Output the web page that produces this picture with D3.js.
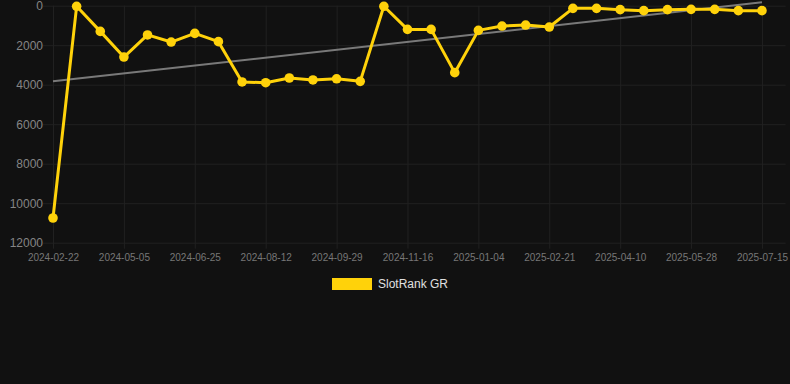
<!DOCTYPE html>
<html><head><meta charset="utf-8">
<script src="https://cdn.jsdelivr.net/npm/d3@7"></script>
<style>
html,body{margin:0;padding:0;background:#111111;}
svg{display:block;font-family:Arial,"Liberation Sans",sans-serif;}
</style></head>
<body>
<svg id="c" width="790" height="384"></svg>
<script>
const dates = ["2024-02-22","2024-03-16","2024-04-10","2024-05-05","2024-05-22","2024-06-08","2024-06-25","2024-07-11","2024-07-27","2024-08-12","2024-08-28","2024-09-13","2024-09-29","2024-10-15","2024-10-31","2024-11-16","2024-12-02","2024-12-18","2025-01-04","2025-01-20","2025-02-05","2025-02-21","2025-03-09","2025-03-25","2025-04-10","2025-04-26","2025-05-12","2025-05-28","2025-06-13","2025-06-29","2025-07-15"];
const ranks = [10750,30,1300,2600,1480,1840,1400,1820,3860,3900,3660,3760,3700,3830,30,1200,1200,3390,1250,1030,980,1080,135,135,200,250,200,185,185,250,250];
const trend = [3830,-170];
const yTicks = [0,2000,4000,6000,8000,10000,12000];
const seriesName = "SlotRank GR";

(function(){
const svg = d3.select("#c");
const pL = 53, pR = 785.6, pT = 5.7, pB = 242.7;
const x = d3.scaleLinear().domain([0, dates.length]).range([pL, pR]);
const y = d3.scaleLinear().domain([0, 12000]).range([pT, pB]);
const gridColor = "#212121";

// horizontal grid + y axis labels
const yAxis = d3.axisLeft(y).tickValues(yTicks).tickFormat(d => d).tickSize(-(pR - pL) - 10).tickPadding(0);
const gy = svg.append("g").attr("transform", `translate(${pL - 10},0)`).call(yAxis);
gy.select(".domain").remove();
gy.selectAll(".tick line").attr("stroke", gridColor).attr("stroke-width", 1);
gy.selectAll(".tick text").attr("fill", "#858585").attr("font-size", 12).attr("x", 0).attr("text-anchor", "end");

// vertical grid + x labels
const xIdx = d3.range(0, dates.length, 3);
const xAxis = d3.axisBottom(x).tickValues(xIdx).tickFormat(i => dates[i]).tickSize(-(pB - pT) - 6).tickPadding(10);
const gx = svg.append("g").attr("transform", `translate(0,${pB + 6})`).call(xAxis);
gx.select(".domain").remove();
gx.selectAll(".tick line").attr("stroke", gridColor).attr("stroke-width", 1);
gx.selectAll(".tick text").attr("fill", "#777").attr("font-size", 10).attr("dy", "0.2em");

// trend line
svg.append("line")
  .attr("x1", x(0)).attr("y1", y(trend[0]))
  .attr("x2", x(dates.length - 1)).attr("y2", y(trend[1]))
  .attr("stroke", "#8c8c8c").attr("stroke-width", 2).attr("stroke-opacity", 0.85);

// series line
const line = d3.line().x((d, i) => x(i)).y(d => y(d));
const color = "#FFD20A";
svg.append("path").datum(ranks).attr("d", line)
  .attr("fill", "none").attr("stroke", color).attr("stroke-width", 3).attr("stroke-linejoin", "round");
svg.selectAll("circle.pt").data(ranks).enter().append("circle")
  .attr("class", "pt").attr("cx", (d, i) => x(i)).attr("cy", d => y(d)).attr("r", 4.8).attr("fill", color);

// legend
const lg = svg.append("g");
lg.append("rect").attr("x", 332).attr("y", 278).attr("width", 40).attr("height", 12).attr("fill", color);
lg.append("text").attr("x", 378).attr("y", 284).attr("dy", "0.35em").attr("font-size", 12).attr("fill", "#e0e0e0").text(seriesName);
})();
</script>
</body></html>
